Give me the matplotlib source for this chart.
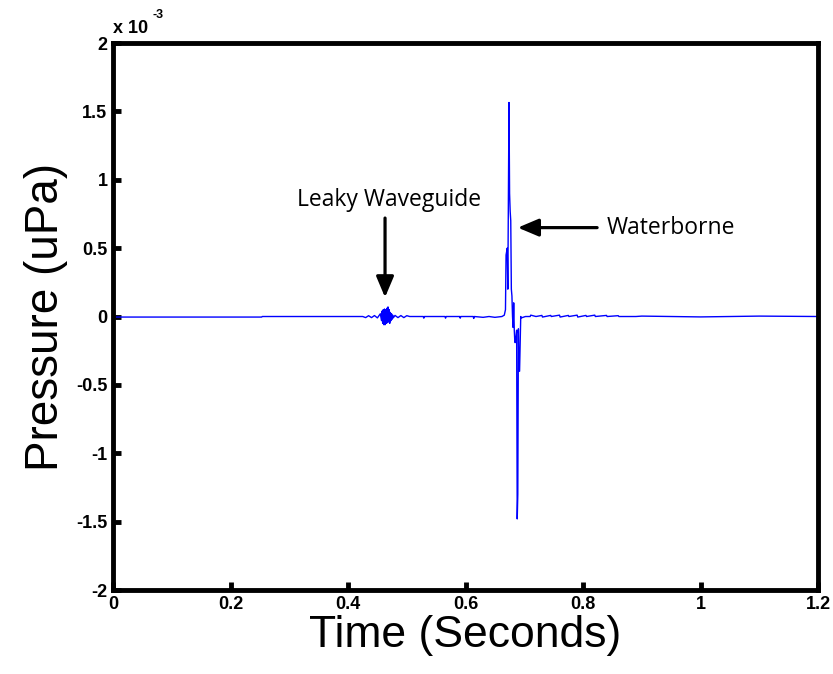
import matplotlib
matplotlib.use('Agg')
import matplotlib.pyplot as plt

# trace, pressure in units of 1e-3 uPa
t_pre = [0.0, 0.253, 0.254, 0.425, 0.430, 0.435, 0.440, 0.445, 0.450]
p_pre = [-0.004, -0.004, 0.0, 0.0, -0.008, 0.006, -0.008, 0.007, -0.01]

# leaky waveguide burst
t_burst = [0.455, 0.457, 0.458, 0.459, 0.460, 0.461, 0.462, 0.463, 0.464,
           0.465, 0.466, 0.467, 0.468, 0.469, 0.470, 0.471, 0.472, 0.473,
           0.474, 0.475, 0.476, 0.477]
p_burst = [0.02, -0.03, 0.04, -0.05, 0.05, -0.06, 0.055, -0.06, 0.05,
           -0.05, 0.06, -0.045, 0.07, -0.04, 0.05, -0.05, 0.03, -0.03,
           0.02, -0.02, 0.01, -0.01]

t_mid = [0.480, 0.485, 0.490, 0.495, 0.500, 0.505, 0.528, 0.529, 0.530,
         0.565, 0.566, 0.567, 0.590, 0.591, 0.592, 0.613, 0.614, 0.615,
         0.630, 0.640, 0.650, 0.662]
p_mid = [0.008, -0.008, 0.007, -0.008, 0.006, 0.0, 0.0, -0.012, 0.0,
         0.0, -0.012, 0.0, 0.0, -0.012, 0.0, 0.0, -0.014, 0.0,
         -0.006, 0.0, -0.006, 0.0]

# waterborne arrival
t_pulse = [0.666, 0.668, 0.669, 0.671, 0.672, 0.674, 0.675, 0.676, 0.677,
           0.678, 0.679, 0.680, 0.681, 0.682, 0.683, 0.684, 0.685, 0.687,
           0.688, 0.689, 0.690, 0.691, 0.692, 0.694, 0.695]
p_pulse = [0.01, 0.05, 0.45, 0.50, 0.20, 1.565, 0.90, 0.77, 0.70,
           0.20, 0.15, 0.0, -0.08, 0.10, -0.10, -0.19, -0.19, -0.10,
           -1.48, -1.30, -0.09, -0.40, -0.40, 0.0, -0.01]

t_post = [0.702, 0.710, 0.711, 0.720, 0.730, 0.731, 0.745, 0.746, 0.760,
          0.761, 0.775, 0.776, 0.790, 0.791, 0.805, 0.806, 0.820, 0.821,
          0.840, 0.841, 0.860, 0.861, 0.890, 0.900, 1.000, 1.100, 1.200]
p_post = [0.0, 0.0, 0.01, 0.0, 0.008, -0.004, 0.008, 0.0, 0.01,
          -0.004, 0.008, 0.0, 0.01, -0.004, 0.008, 0.0, 0.01, 0.0,
          0.008, 0.0, 0.006, 0.0, 0.0, 0.003, -0.003, 0.003, 0.0]

t_all = t_pre + t_burst + t_mid + t_pulse + t_post
p_all = p_pre + p_burst + p_mid + p_pulse + p_post

x_ticks = [0, 0.2, 0.4, 0.6, 0.8, 1.0, 1.2]
x_tick_labels = ['0', '0.2', '0.4', '0.6', '0.8', '1', '1.2']
y_ticks = [-2, -1.5, -1, -0.5, 0, 0.5, 1, 1.5, 2]
y_tick_labels = ['-2', '-1.5', '-1', '-0.5', '0', '0.5', '1', '1.5', '2']

fig = plt.figure(figsize=(8.33, 6.74), dpi=100)
ax = fig.add_axes([0.1357, 0.1246, 0.8463, 0.8116])

ax.plot(t_all, p_all, color='#0000ff', lw=1.0)

ax.set_xlim(0, 1.2)
ax.set_ylim(-2, 2)
ax.set_xticks(x_ticks)
ax.set_xticklabels(x_tick_labels)
ax.set_yticks(y_ticks)
ax.set_yticklabels(y_tick_labels)
for lab in ax.get_xticklabels() + ax.get_yticklabels():
    lab.set_fontfamily('Liberation Sans')
    lab.set_fontweight('bold')
    lab.set_fontsize(13)
ax.tick_params(direction='in', length=6, width=3.5, pad=4)

for s in ax.spines.values():
    s.set_linewidth(3.5)

ax.set_xlabel('Time (Seconds)', fontsize=32, family='Liberation Sans', labelpad=2)
ax.set_ylabel('Pressure (uPa)', fontsize=33, family='Liberation Sans', labelpad=6)

# exponent written by hand, like the matlab offset text
ax.text(0.0, 1.018, 'x 10', transform=ax.transAxes, fontsize=13,
        fontweight='bold', family='Liberation Sans', va='baseline')
ax.text(0.056, 1.046, '-3', transform=ax.transAxes, fontsize=9,
        fontweight='bold', family='Liberation Sans', va='baseline')

arrow = dict(arrowstyle='-|>,head_length=0.9,head_width=0.38', mutation_scale=14,
             lw=2.3, color='k', shrinkA=0, shrinkB=0)
ax.annotate('', xy=(0.463, 0.14), xytext=(0.463, 0.72), arrowprops=arrow)
ax.annotate('', xy=(0.689, 0.65), xytext=(0.824, 0.65), arrowprops=arrow)
ax.text(0.470, 0.85, 'Leaky Waveguide', fontsize=16.5, family='Open Sans',
        ha='center', va='center')
ax.text(0.840, 0.65, 'Waterborne', fontsize=16.5, family='Open Sans',
        ha='left', va='center')

fig.savefig('out.png', dpi=100)
